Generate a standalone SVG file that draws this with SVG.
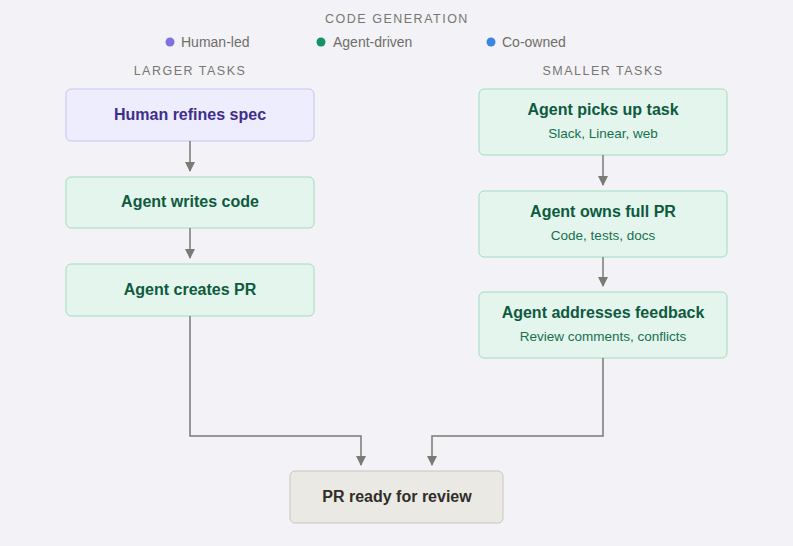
<svg xmlns="http://www.w3.org/2000/svg" width="793" height="546" viewBox="0 0 793 546">
<style>
text{font-family:"Liberation Sans",Arial,sans-serif;text-anchor:middle}
.cap{font-size:12.5px;fill:#77766f;letter-spacing:1.5px}
.leg{font-size:14px;fill:#6f6e68;text-anchor:start}
.g rect{fill:#e3f5ec;stroke:#a3dcc0;stroke-width:1}
.g .t{fill:#0e5a3e;font-size:16px;font-weight:bold}
.g .s{fill:#17704f;font-size:13.5px}
.p rect{fill:#eeedfd;stroke:#c7c3f3}
.p .t{fill:#3e2f8a;font-size:16px;font-weight:bold}
.n rect{fill:#ebe9e3;stroke:#c9c6bd}
.n .t{fill:#2f2e2a;font-size:16px;font-weight:bold}
.c{fill:none;stroke:#7b7a75;stroke-width:1.5}
</style>
<defs><marker id="a" viewBox="0 0 10 10" refX="9" refY="5" markerWidth="7" markerHeight="7" orient="auto"><path d="M0,0 L10,5 L0,10z" fill="#7b7a75"/></marker></defs>
<rect width="793" height="546" fill="#f3f2f7"/>
<text class="cap" x="397" y="23">CODE GENERATION</text>
<circle cx="170" cy="42" r="4.5" fill="#7e72e0"/><text class="leg" x="181" y="47">Human-led</text>
<circle cx="321" cy="42" r="4.5" fill="#169066"/><text class="leg" x="333" y="47">Agent-driven</text>
<circle cx="491" cy="42" r="4.5" fill="#3d86e0"/><text class="leg" x="502" y="47">Co-owned</text>
<text class="cap" x="190" y="75">LARGER TASKS</text>
<text class="cap" x="603" y="75">SMALLER TASKS</text>
<g id="n1" class="p"><rect x="66" y="89" width="248" height="52" rx="5"/><text class="t" x="190" y="120">Human refines spec</text></g>
<g id="n2" class="g"><rect x="66" y="177" width="248" height="51" rx="5"/><text class="t" x="190" y="207">Agent writes code</text></g>
<g id="n3" class="g"><rect x="66" y="264" width="248" height="52" rx="5"/><text class="t" x="190" y="295">Agent creates PR</text></g>
<g id="n4" class="g"><rect x="479" y="89" width="248" height="66" rx="5"/><text class="t" x="603" y="115">Agent picks up task</text><text class="s" x="603" y="138">Slack, Linear, web</text></g>
<g id="n5" class="g"><rect x="479" y="191" width="248" height="66" rx="5"/><text class="t" x="603" y="217">Agent owns full PR</text><text class="s" x="603" y="240">Code, tests, docs</text></g>
<g id="n6" class="g"><rect x="479" y="292" width="248" height="66" rx="5"/><text class="t" x="603" y="318">Agent addresses feedback</text><text class="s" x="603" y="341">Review comments, conflicts</text></g>
<g id="n7" class="n"><rect x="290" y="471" width="213" height="52" rx="5"/><text class="t" x="397" y="502">PR ready for review</text></g>
<g id="connectors">
<path class="c" d="M190,141 V171" marker-end="url(#a)"/>
<path class="c" d="M190,228 V258" marker-end="url(#a)"/>
<path class="c" d="M603,155 V185" marker-end="url(#a)"/>
<path class="c" d="M603,257 V286" marker-end="url(#a)"/>
<path class="c" d="M190,316 V436 H361 V465" marker-end="url(#a)"/>
<path class="c" d="M603,358 V436 H432 V465" marker-end="url(#a)"/>
</g>
</svg>
